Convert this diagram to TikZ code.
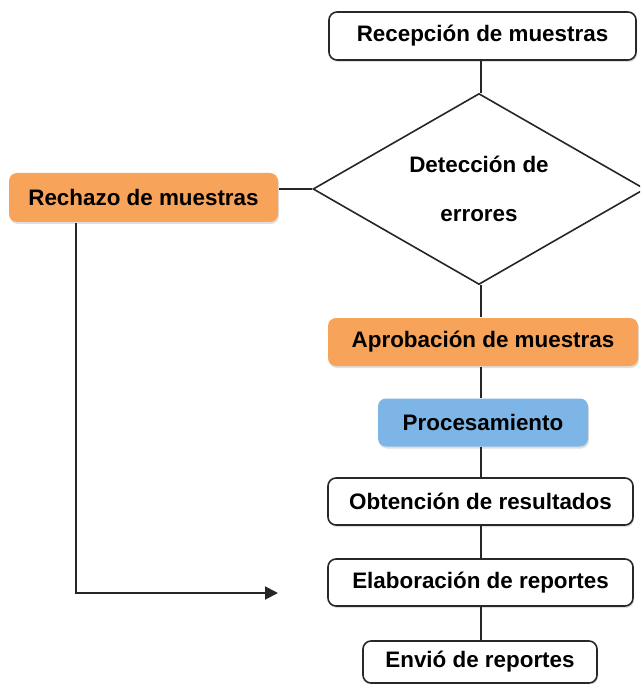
\documentclass[tikz,border=0pt]{standalone}
\usepackage{fontspec}
\setmainfont{Liberation Sans}
\usetikzlibrary{shapes.geometric,arrows.meta,shadows}
\definecolor{boxorange}{RGB}{247,163,90}
\definecolor{boxblue}{RGB}{125,182,230}
\definecolor{edgegray}{RGB}{40,40,40}
\begin{document}
\begin{tikzpicture}[x=1pt,y=-1pt,
  every node/.style={font=\fontsize{22.4}{26}\selectfont\bfseries, inner sep=0pt},
  box/.style={draw=edgegray, line width=1.6pt, rounded corners=8pt, fill=white,
    drop shadow={shadow xshift=1pt, shadow yshift=-2pt, opacity=0.25}},
  obox/.style={box, draw=none, fill=boxorange},
  bbox/.style={box, draw=none, fill=boxblue},
  link/.style={draw=black!85, line width=1.9pt}]
\useasboundingbox (0,0) rectangle (640,684);
\begin{scope}
\clip (0,0) rectangle (640,684);
\coordinate (spine) at (481,0);
\coordinate (lx) at (76,0);
\coordinate (ar) at (278,593);
\node[box, minimum width=307pt, minimum height=48pt] (rec) at (482.5,36) {Recepción de muestras};
\node[diamond, aspect=1.73, draw=black!85, line width=1.6pt, fill=white, minimum width=332pt, minimum height=191pt, align=center,
  font=\fontsize{22.4}{49}\selectfont\bfseries] (det) at (479,189) {Detección de\\errores};
\node[obox, minimum width=269pt, minimum height=49pt] (rech) at (143.5,197.5) {Rechazo de muestras};
\node[obox, minimum width=310pt, minimum height=48pt] (aprob) at (483,342) {Aprobación de muestras};
\node[bbox, minimum width=210pt, minimum height=48pt] (proc) at (483,422.5) {Procesamiento};
\node[box, minimum width=305pt, minimum height=47pt] (obt) at (480.5,501.5) {Obtención de resultados};
\node[box, minimum width=305pt, minimum height=47pt] (elab) at (480.5,582.5) {Elaboración de reportes};
\node[box, minimum width=234pt, minimum height=42pt] (env) at (480,662) {Envió de reportes};
\draw[link] (rec.south -| spine) -- (det.north -| spine);
\draw[link] (det.south -| spine) -- (aprob.north -| spine);
\draw[link] (aprob.south -| spine) -- (proc.north -| spine);
\draw[link] (proc.south -| spine) -- (obt.north -| spine);
\draw[link] (obt.south -| spine) -- (elab.north -| spine);
\draw[link] (elab.south -| spine) -- (env.north -| spine);
\draw[link] (det.west) -- (det.west -| rech.east);
\draw[link, -{Triangle[length=13pt,width=13pt]}] (rech.south -| lx) |- (ar);
\end{scope}
\end{tikzpicture}
\end{document}
